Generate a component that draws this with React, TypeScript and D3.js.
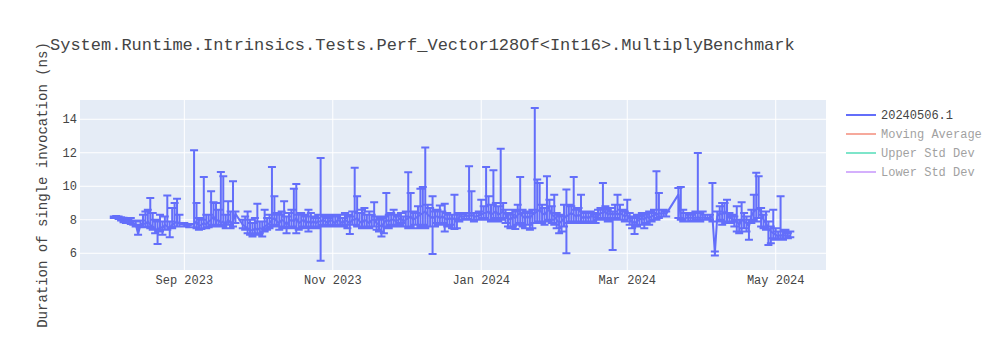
import React from "react";
import * as d3 from "d3";

const title = "System.Runtime.Intrinsics.Tests.Perf_Vector128Of<Int16>.MultiplyBenchmark";
const yTitle = "Duration of single invocation (ns)";
const legendNames = ["20240506.1", "Moving Average", "Upper Std Dev", "Lower Std Dev"];
const legendColors = ["#636efa", "#EF553B", "#00cc96", "#ab63fa"];
const legendVisible = [true, false, false, false];
const yTicks = [6, 8, 10, 12, 14];
const xTicks = ["2023-09-01", "2023-11-01", "2024-01-01", "2024-03-01", "2024-05-01"];
const xTickLabels = ["Sep 2023", "Nov 2023", "Jan 2024", "Mar 2024", "May 2024"];
const xDomain = ["2023-07-20T03:00:00Z", "2024-05-21T16:00:00Z"];
const yDomain = [5.0, 15.15];

const dates = [
  // Aug 2023
  "2023-08-03","2023-08-04","2023-08-05","2023-08-06","2023-08-07","2023-08-08","2023-08-09","2023-08-10","2023-08-11","2023-08-12",
  "2023-08-13","2023-08-14","2023-08-15","2023-08-16","2023-08-17","2023-08-18","2023-08-19","2023-08-20","2023-08-21","2023-08-22",
  "2023-08-23","2023-08-24","2023-08-25","2023-08-26","2023-08-27","2023-08-28","2023-08-29","2023-08-30",
  // Sep 2023
  "2023-09-01","2023-09-03","2023-09-05","2023-09-06","2023-09-07","2023-09-08","2023-09-09","2023-09-10","2023-09-11","2023-09-12",
  "2023-09-13","2023-09-14","2023-09-15","2023-09-16","2023-09-17","2023-09-18","2023-09-19","2023-09-20","2023-09-21","2023-09-22",
  "2023-09-25","2023-09-26","2023-09-27","2023-09-28","2023-09-29","2023-09-30",
  // Oct 2023
  "2023-10-01","2023-10-02","2023-10-03","2023-10-04","2023-10-05","2023-10-06","2023-10-07","2023-10-08","2023-10-09","2023-10-10",
  "2023-10-11","2023-10-12","2023-10-13","2023-10-14","2023-10-15","2023-10-16","2023-10-17","2023-10-18","2023-10-19","2023-10-20",
  "2023-10-21","2023-10-22","2023-10-23","2023-10-24","2023-10-25","2023-10-26","2023-10-27","2023-10-28","2023-10-29","2023-10-30",
  "2023-10-31",
  // Nov 2023
  "2023-11-01","2023-11-02","2023-11-03","2023-11-04","2023-11-05","2023-11-06","2023-11-07","2023-11-08","2023-11-09","2023-11-10",
  "2023-11-11","2023-11-12","2023-11-13","2023-11-14","2023-11-15","2023-11-16","2023-11-17","2023-11-18","2023-11-19","2023-11-20",
  "2023-11-21","2023-11-22","2023-11-23","2023-11-24","2023-11-25","2023-11-26","2023-11-27","2023-11-28","2023-11-29","2023-11-30",
  // Dec 2023
  "2023-12-01","2023-12-02","2023-12-03","2023-12-04","2023-12-05","2023-12-06","2023-12-07","2023-12-08","2023-12-09","2023-12-10",
  "2023-12-11","2023-12-12","2023-12-13","2023-12-14","2023-12-15","2023-12-16","2023-12-17","2023-12-18","2023-12-19","2023-12-20",
  "2023-12-21","2023-12-22","2023-12-23","2023-12-24","2023-12-25","2023-12-26","2023-12-27","2023-12-28","2023-12-29","2023-12-30",
  "2023-12-31",
  // Jan 2024
  "2024-01-01","2024-01-02","2024-01-03","2024-01-04","2024-01-05","2024-01-06","2024-01-07","2024-01-08","2024-01-09","2024-01-10",
  "2024-01-11","2024-01-12","2024-01-13","2024-01-14","2024-01-15","2024-01-16","2024-01-17","2024-01-18","2024-01-19","2024-01-20",
  "2024-01-21","2024-01-22","2024-01-23","2024-01-24","2024-01-25","2024-01-26","2024-01-27","2024-01-28","2024-01-29","2024-01-30",
  "2024-01-31",
  // Feb 2024
  "2024-02-01","2024-02-02","2024-02-03","2024-02-04","2024-02-05","2024-02-06","2024-02-07","2024-02-08","2024-02-09","2024-02-10",
  "2024-02-11","2024-02-12","2024-02-13","2024-02-14","2024-02-15","2024-02-16","2024-02-17","2024-02-18","2024-02-19","2024-02-20",
  "2024-02-21","2024-02-22","2024-02-23","2024-02-24","2024-02-25","2024-02-26","2024-02-27","2024-02-28","2024-02-29",
  // Mar 2024
  "2024-03-01","2024-03-02","2024-03-03","2024-03-04","2024-03-05","2024-03-06","2024-03-07","2024-03-08","2024-03-09","2024-03-10",
  "2024-03-11","2024-03-12","2024-03-13","2024-03-14","2024-03-15","2024-03-16","2024-03-17",
  "2024-03-22","2024-03-23","2024-03-24","2024-03-25","2024-03-26","2024-03-27","2024-03-28","2024-03-29","2024-03-30","2024-03-31",
  // Apr 2024
  "2024-04-01","2024-04-02","2024-04-03","2024-04-04","2024-04-05","2024-04-06","2024-04-07","2024-04-08","2024-04-09","2024-04-10",
  "2024-04-11","2024-04-12","2024-04-13","2024-04-14","2024-04-15","2024-04-16","2024-04-17","2024-04-18","2024-04-19","2024-04-20",
  "2024-04-21","2024-04-22","2024-04-23","2024-04-24","2024-04-25","2024-04-26","2024-04-27","2024-04-28","2024-04-29","2024-04-30",
  // May 2024
  "2024-05-01","2024-05-02","2024-05-03","2024-05-04","2024-05-05","2024-05-06","2024-05-07",
];

const values = [
  // Aug
  8.15,8.15,8.1,8.05,8.0,7.9,7.95,7.85,7.75,7.75,
  7.15,7.7,7.8,7.75,7.9,7.7,7.6,7.5,7.3,7.6,
  7.5,7.7,7.6,7.5,7.7,7.8,7.9,7.75,
  // Sep
  7.7,7.65,7.75,7.9,7.6,7.7,7.8,7.7,7.9,8.0,
  8.2,7.9,8.0,7.8,7.9,7.7,8.0,7.8,7.9,8.35,
  7.7,7.6,7.5,7.4,7.35,7.5,
  // Oct
  7.4,7.5,7.45,7.6,7.7,7.8,8.0,8.1,7.9,7.8,
  8.0,7.9,7.7,7.9,8.0,7.9,8.1,7.8,7.9,8.0,
  7.8,7.9,7.8,7.9,7.8,7.9,7.9,8.0,7.9,7.8,
  8.0,
  // Nov
  7.9,7.8,8.0,7.9,7.8,8.0,7.9,7.8,8.0,8.0,
  8.1,7.9,7.8,8.0,7.9,7.8,8.0,8.0,7.8,7.7,
  7.6,7.8,8.0,7.9,8.0,8.0,7.9,8.0,8.1,7.9,
  // Dec
  8.0,8.1,8.2,8.0,8.1,8.2,8.3,8.4,8.5,8.3,
  8.2,8.1,8.2,8.2,8.1,8.2,8.1,8.0,8.1,8.0,
  8.1,7.9,8.2,8.2,8.2,8.25,8.2,8.3,8.2,8.2,
  8.25,
  // Jan
  8.3,8.4,8.4,8.5,8.3,8.4,8.5,8.3,8.4,8.5,
  8.3,8.1,8.0,8.2,8.1,8.3,8.4,8.2,8.1,8.2,
  8.1,8.3,8.4,8.5,8.6,8.4,8.3,8.5,8.6,8.3,
  8.2,
  // Feb
  8.0,7.8,7.9,8.1,8.2,8.3,8.4,8.3,8.2,8.3,
  8.2,8.1,8.2,8.1,8.2,8.2,8.1,8.3,8.4,8.4,
  8.5,8.3,8.4,8.3,8.4,8.3,8.4,8.3,8.2,
  // Mar
  8.3,8.0,7.9,7.8,7.9,8.0,8.1,8.0,8.2,8.1,
  8.2,8.3,8.3,8.4,8.35,8.4,8.35,
  9.5,8.1,8.05,8.1,8.15,8.1,8.15,8.1,8.15,8.1,
  // Apr
  8.15,8.1,8.1,8.1,8.2,6.0,8.2,8.4,8.3,8.5,
  8.3,8.1,8.1,7.9,7.9,7.7,8.0,7.9,7.8,7.6,
  8.2,8.5,8.6,8.7,8.4,8.0,7.8,7.5,7.3,7.2,
  // May
  7.1,7.0,7.1,7.0,7.1,7.0,7.05,
];

const upper = [
  // Aug
  8.2,8.22,8.2,8.15,8.12,8.1,8.05,8.1,7.95,7.9,
  7.7,7.95,8.3,8.5,8.6,9.3,8.4,8.0,7.9,8.3,
  7.9,8.2,9.45,7.9,8.7,9.0,9.25,8.3,
  // Sep
  7.8,7.75,12.15,9.0,8.1,8.0,10.55,8.3,8.3,9.7,
  9.05,9.0,8.6,10.85,10.6,8.3,9.1,8.5,10.3,8.5,
  8.0,8.2,8.5,8.0,7.8,8.1,
  // Oct
  8.95,7.9,7.9,8.6,8.1,8.3,11.15,9.4,8.4,8.3,
  8.5,9.1,8.2,8.4,8.6,9.85,10.13,8.3,8.4,8.3,
  8.2,8.6,8.4,8.2,8.1,8.3,11.68,8.3,8.2,8.1,
  8.3,
  // Nov
  8.2,8.2,8.3,8.3,8.1,8.4,8.3,8.2,8.5,11.1,
  9.4,8.4,8.6,8.7,8.3,8.5,8.3,9.05,8.2,8.0,
  8.1,8.2,9.6,8.3,8.4,8.6,8.3,8.2,8.4,8.2,
  // Dec
  8.5,10.83,9.6,8.5,8.4,8.8,9.85,9.95,12.32,8.9,
  8.7,9.4,8.5,8.6,8.85,8.5,8.95,8.4,8.3,8.3,
  9.5,8.3,8.4,8.35,8.4,8.4,11.2,9.7,8.4,8.4,
  8.5,
  // Jan
  9.2,8.8,11.15,9.4,8.9,10.95,9.0,8.8,12.24,9.0,
  8.6,8.4,8.3,8.6,8.5,8.9,10.55,8.6,8.4,8.5,
  8.4,8.6,14.67,10.4,10.2,8.9,8.7,10.6,9.2,8.8,
  9.5,
  // Feb
  8.4,8.3,8.2,8.9,9.8,8.9,8.8,10.55,8.6,8.7,
  9.5,8.5,8.4,8.4,8.5,8.4,8.3,8.6,8.7,10.2,
  8.8,8.6,8.7,8.5,8.9,9.5,8.9,8.6,8.5,
  // Mar
  9.2,8.4,8.2,8.1,8.3,8.2,8.4,8.3,8.4,8.5,
  8.4,8.6,10.9,9.6,8.6,8.6,8.5,
  9.9,9.95,8.6,8.4,8.4,8.3,8.4,8.5,11.98,8.4,
  // Apr
  8.5,8.3,8.3,8.3,10.2,6.1,8.5,8.8,9.0,9.0,
  9.2,8.4,8.3,8.2,8.8,8.0,9.05,8.4,8.2,8.0,
  8.6,9.5,10.8,10.6,8.7,8.3,8.5,7.9,7.6,8.6,
  // May
  7.5,7.3,9.4,7.3,7.4,7.2,7.3,
];

const lower = [
  // Aug
  8.1,8.1,8.05,7.95,7.85,7.8,7.85,7.75,7.7,7.6,
  7.1,7.55,7.6,7.55,7.6,7.5,7.4,7.2,6.55,7.3,
  7.1,7.4,7.4,6.95,7.5,7.6,7.6,7.6,
  // Sep
  7.6,7.55,7.55,7.5,7.4,7.45,7.5,7.5,7.55,7.6,
  7.7,7.6,7.7,7.6,7.6,7.5,7.7,7.5,7.6,7.8,
  7.5,7.4,7.2,7.1,7.0,7.2,
  // Oct
  7.1,7.2,7.0,7.3,7.4,7.5,7.6,7.7,7.6,7.4,
  7.6,7.5,7.2,7.5,7.6,7.5,7.2,7.4,7.5,7.6,
  7.5,7.3,7.5,7.6,7.5,7.6,5.55,7.7,7.6,7.6,
  7.7,
  // Nov
  7.7,7.6,7.7,7.6,7.6,7.7,7.5,7.15,7.7,7.7,
  7.6,7.6,7.5,7.6,7.5,7.5,7.6,7.6,7.4,7.3,
  7.0,7.2,7.6,7.5,7.7,7.6,7.6,7.7,7.8,7.6,
  // Dec
  7.6,7.5,7.6,7.5,7.7,7.5,7.6,7.7,7.5,7.6,
  7.6,5.95,7.6,7.8,7.7,7.8,7.3,7.6,7.7,7.5,
  7.45,7.5,7.9,8.0,8.0,8.05,8.0,8.0,7.9,8.0,
  8.0,
  // Jan
  8.0,8.1,8.0,8.0,7.9,8.0,8.1,7.9,8.0,8.1,
  7.8,7.6,7.5,7.6,7.45,7.7,7.8,7.6,7.5,7.7,
  7.4,7.5,7.8,7.8,7.9,7.8,7.7,7.9,8.0,7.8,
  7.7,
  // Feb
  7.5,7.2,7.3,7.6,6.0,7.8,7.9,7.9,7.8,7.9,
  7.8,7.8,7.9,7.8,7.9,7.9,7.8,8.0,8.1,8.0,
  8.1,7.9,8.0,6.2,8.1,8.0,8.0,8.0,7.9,
  // Mar
  7.9,7.7,7.5,7.15,7.6,7.7,7.7,7.5,7.8,7.7,
  7.9,8.0,8.0,8.1,8.2,8.2,8.2,
  8.1,8.0,7.9,7.9,7.9,7.9,7.95,7.9,8.0,7.9,
  // Apr
  8.0,8.0,8.0,8.0,7.9,5.87,7.9,8.0,7.7,7.9,
  7.8,7.8,7.9,7.6,7.3,7.2,7.3,7.5,7.3,6.8,
  7.8,8.0,7.9,8.1,7.6,7.5,7.4,6.5,6.6,6.9,
  // May
  6.8,6.9,6.9,6.8,6.9,6.9,6.95,
];

const W = 1000;
const H = 350;
const M = { left: 80, right: 826, top: 100, bottom: 270 };
const FONT = "'Courier New', 'Liberation Mono', monospace";
const TEXT = "#444";
const SERIES = "#636efa";

export default function App() {
  const x = d3
    .scaleUtc()
    .domain(xDomain.map((s) => new Date(s)))
    .range([M.left, M.right]);
  const y = d3.scaleLinear().domain(yDomain).range([M.bottom, M.top]);

  const pts = dates.map((d, i) => ({
    t: new Date(d + "T00:00:00Z"),
    v: values[i],
    hi: upper[i],
    lo: lower[i],
  }));

  const line = d3
    .line<{ t: Date; v: number }>()
    .x((d) => x(d.t))
    .y((d) => y(d.v));

  const errPath = pts
    .map((p) => {
      const px = x(p.t);
      const yh = y(p.hi);
      const yl = y(p.lo);
      return `M${px},${yh}V${yl}M${px - 4},${yh}H${px + 4}M${px - 4},${yl}H${px + 4}`;
    })
    .join("");

  return (
    <svg
      width={W}
      height={H}
      style={{ position: "absolute", left: 0, top: 0, background: "#fff" }}
      fontFamily={FONT}
    >
      <defs>
        <clipPath id="plotclip">
          <rect x={M.left} y={M.top} width={M.right - M.left} height={M.bottom - M.top} />
        </clipPath>
      </defs>
      <rect x={M.left} y={M.top} width={M.right - M.left} height={M.bottom - M.top} fill="#e5ecf6" />
      {yTicks.map((t) => (
        <line key={"gy" + t} x1={M.left} x2={M.right} y1={y(t)} y2={y(t)} stroke="#fff" strokeWidth={1} />
      ))}
      {xTicks.map((t) => (
        <line
          key={"gx" + t}
          x1={x(new Date(t + "T00:00:00Z"))}
          x2={x(new Date(t + "T00:00:00Z"))}
          y1={M.top}
          y2={M.bottom}
          stroke="#fff"
          strokeWidth={1}
        />
      ))}
      <g clipPath="url(#plotclip)">
        <path d={errPath} fill="none" stroke={SERIES} strokeWidth={2} />
        <path d={line(pts) || ""} fill="none" stroke={SERIES} strokeWidth={2} strokeLinejoin="round" />
      </g>
      {yTicks.map((t) => (
        <text key={"ty" + t} x={77} y={y(t)} dy="0.35em" textAnchor="end" fontSize={12} fill={TEXT}>
          {t}
        </text>
      ))}
      {xTicks.map((t, i) => (
        <text
          key={"tx" + t}
          x={x(new Date(t + "T00:00:00Z"))}
          y={283.5}
          textAnchor="middle"
          fontSize={12}
          fill={TEXT}
        >
          {xTickLabels[i]}
        </text>
      ))}
      <text x={50} y={50} fontSize={17} fill={TEXT}>
        {title}
      </text>
      <text
        transform={`translate(47,${(M.top + M.bottom) / 2}) rotate(-90)`}
        textAnchor="middle"
        fontSize={14}
        fill={TEXT}
      >
        {yTitle}
      </text>
      {legendNames.map((n, i) => (
        <g key={n} opacity={legendVisible[i] ? 1 : 0.5}>
          <line x1={846} x2={876} y1={115 + i * 19} y2={115 + i * 19} stroke={legendColors[i]} strokeWidth={2} />
          <text x={881} y={115 + i * 19} dy="0.35em" fontSize={12} fill={TEXT}>
            {n}
          </text>
        </g>
      ))}
    </svg>
  );
}
